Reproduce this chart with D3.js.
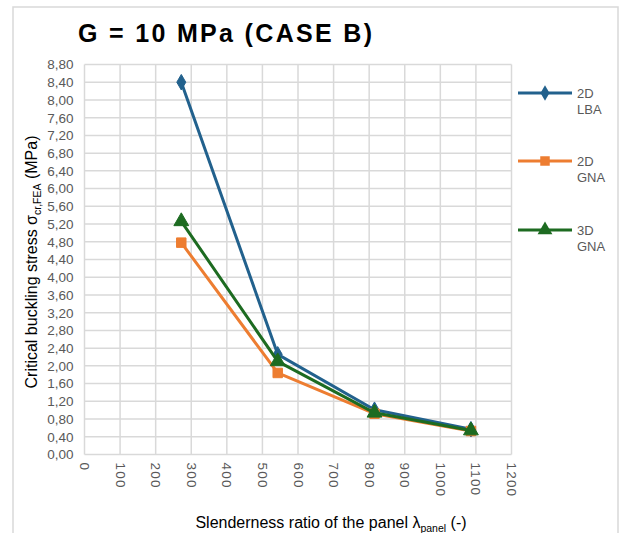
<!DOCTYPE html>
<html>
<head>
<meta charset="utf-8">
<script src="https://cdn.jsdelivr.net/npm/d3@7"></script>
<style>
  html, body { margin: 0; padding: 0; background: #fff; }
  svg { display: block; font-family: "Liberation Sans", Arial, sans-serif; }
</style>
</head>
<body>
<svg id="chart" width="619" height="533"></svg>
<script>
// Slenderness ratio of the panel (x) and critical buckling stress in MPa (y)
const slenderness = [272, 543, 815, 1086];
const lba2D = [8.40, 2.26, 1.01, 0.57];
const gna2D = [4.78, 1.84, 0.92, 0.53];
const gna3D = [5.26, 2.10, 0.94, 0.54];

const seriesNames = [["2D", "LBA"], ["2D", "GNA"], ["3D", "GNA"]];
const seriesColors = ["#22618D", "#ED7D31", "#1D6B21"];
const seriesMarkers = [d3.symbolDiamond, d3.symbolSquare, d3.symbolTriangle];
const markerSizes = [70, 90, 95];

const xTicks = d3.range(0, 1201, 100);
const yTicks = d3.range(0, 23).map(i => +(i * 0.4).toFixed(2));

const svg = d3.select("#chart");

// Outer chart frame
svg.append("rect")
  .attr("x", 13).attr("y", 7).attr("width", 605).attr("height", 540)
  .attr("fill", "none").attr("stroke", "#d9d9d9").attr("stroke-width", 1.5);

const plot = { left: 84.5, right: 511.5, top: 64.5, bottom: 454.5 };

const x = d3.scaleLinear().domain([0, 1200]).range([plot.left, plot.right]);
const y = d3.scaleLinear().domain([0, 8.8]).range([plot.bottom, plot.top]);

// Grid
const grid = svg.append("g");
grid.selectAll(".gx").data(xTicks).join("line")
  .attr("x1", d => x(d)).attr("x2", d => x(d))
  .attr("y1", plot.top).attr("y2", plot.bottom)
  .attr("stroke", "#d9d9d9").attr("stroke-width", 1.5);
grid.selectAll(".gy").data(yTicks).join("line")
  .attr("x1", plot.left).attr("x2", plot.right)
  .attr("y1", d => y(d)).attr("y2", d => y(d))
  .attr("stroke", "#d9d9d9").attr("stroke-width", 1.5);

const fmt = d3.format(".2f");

// Y axis
const yAxis = svg.append("g")
  .attr("transform", `translate(${plot.left},0)`)
  .call(d3.axisLeft(y).tickValues(yTicks).tickSize(0).tickPadding(11)
    .tickFormat(d => fmt(d).replace(".", ",")));
yAxis.select(".domain").remove();
yAxis.selectAll("text")
  .attr("font-family", "Liberation Sans, Arial, sans-serif")
  .attr("font-size", 13.5).attr("fill", "#595959");

// X axis with labels turned to read downward
const xAxis = svg.append("g")
  .attr("transform", `translate(0,${plot.bottom})`)
  .call(d3.axisBottom(x).tickValues(xTicks).tickSize(0).tickFormat(d3.format("d")));
xAxis.select(".domain").remove();
xAxis.selectAll("text")
  .attr("font-family", "Liberation Sans, Arial, sans-serif")
  .attr("font-size", 13.5).attr("fill", "#595959")
  .attr("letter-spacing", 1.2)
  .attr("text-anchor", "start")
  .attr("dy", null)
  .attr("y", 0)
  .attr("transform", "translate(-5,8) rotate(90)");

// Series lines and markers
const allSeries = [lba2D, gna2D, gna3D];
const line = d3.line().x((d, i) => x(slenderness[i])).y(d => y(d));

allSeries.forEach((vals, s) => {
  svg.append("path")
    .datum(vals)
    .attr("d", line)
    .attr("fill", "none")
    .attr("stroke", seriesColors[s])
    .attr("stroke-width", 3)
    .attr("stroke-linejoin", "round");
  svg.append("g").selectAll("path").data(vals).join("path")
    .attr("transform", (d, i) => `translate(${x(slenderness[i])},${y(d)})`)
    .attr("d", d3.symbol().type(seriesMarkers[s]).size(markerSizes[s]))
    .attr("fill", seriesColors[s])
    .attr("stroke", seriesColors[s]).attr("stroke-width", 1);
});

// Legend
const legendY = [93, 161, 230];
seriesNames.forEach((name, s) => {
  const g = svg.append("g").attr("transform", `translate(0,${legendY[s]})`);
  g.append("line").attr("x1", 518).attr("x2", 572).attr("y1", 0).attr("y2", 0)
    .attr("stroke", seriesColors[s]).attr("stroke-width", 3);
  g.append("path").attr("transform", "translate(545,0)")
    .attr("d", d3.symbol().type(seriesMarkers[s]).size(markerSizes[s]))
    .attr("fill", seriesColors[s]);
  const t = g.append("text").attr("x", 577).attr("y", 4.5)
    .attr("font-size", 13).attr("fill", "#595959");
  t.append("tspan").attr("x", 577).text(name[0]);
  t.append("tspan").attr("x", 577).attr("dy", 16).text(name[1]);
});

// Title
svg.append("text")
  .attr("x", 78).attr("y", 41.5)
  .attr("font-size", 25).attr("font-weight", "bold").attr("fill", "#000")
  .attr("textLength", 294).attr("lengthAdjust", "spacing")
  .text("G = 10 MPa (CASE B)");

// Axis titles
const yt = svg.append("text")
  .attr("transform", `translate(37,262) rotate(-90)`)
  .attr("text-anchor", "middle")
  .attr("font-size", 16).attr("fill", "#000");
yt.append("tspan").text("Critical buckling stress σ");
yt.append("tspan").attr("font-size", 10.5).attr("dy", 4).text("cr,FEA");
yt.append("tspan").attr("dy", -4).text(" (MPa)");

const xt = svg.append("text")
  .attr("x", 331).attr("y", 528)
  .attr("text-anchor", "middle")
  .attr("font-size", 16).attr("fill", "#000");
xt.append("tspan").text("Slenderness ratio of the panel λ");
xt.append("tspan").attr("font-size", 10.5).attr("dy", 4).text("panel");
xt.append("tspan").attr("dy", -4).text(" (-)");
</script>
</body>
</html>
